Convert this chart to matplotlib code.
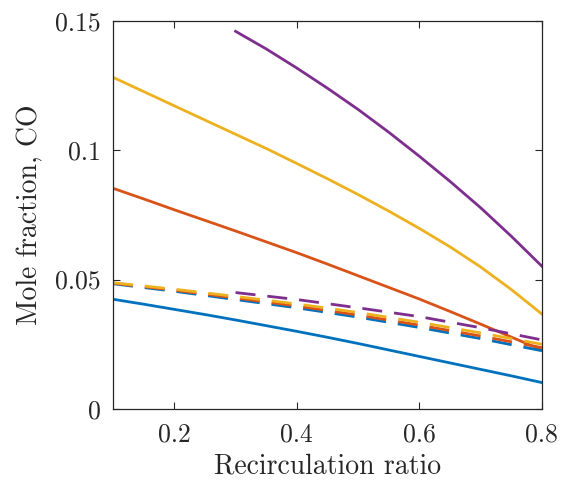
import matplotlib
matplotlib.use("Agg")
import matplotlib.pyplot as plt

plt.rcParams['font.family'] = 'cmr10'
plt.rcParams['mathtext.fontset'] = 'cm'
plt.rcParams['axes.formatter.use_mathtext'] = True

# --- data ---
# solid curves (read every 0.05)
x_fine = [0.1, 0.15, 0.2, 0.25, 0.3, 0.35, 0.4, 0.45, 0.5, 0.55, 0.6, 0.65, 0.7, 0.75, 0.8]
x_fine_purple = [0.3, 0.35, 0.4, 0.45, 0.5, 0.55, 0.6, 0.65, 0.7, 0.75, 0.8]

blue_solid = [0.0424, 0.0405, 0.0385, 0.0365, 0.0344, 0.0322, 0.0300, 0.0277,
              0.0253, 0.0228, 0.0203, 0.0178, 0.0153, 0.0128, 0.0102]
red_solid = [0.0853, 0.0812, 0.0770, 0.0729, 0.0688, 0.0646, 0.0604, 0.0560,
             0.0515, 0.0470, 0.0425, 0.0377, 0.0328, 0.0278, 0.0228]
yellow_solid = [0.1282, 0.1227, 0.1172, 0.1117, 0.1062, 0.1007, 0.0949, 0.0890,
                0.0829, 0.0765, 0.0698, 0.0627, 0.0549, 0.0462, 0.0367]
purple_solid = [0.1460, 0.1392, 0.1318, 0.1240, 0.1158, 0.1070, 0.0977, 0.0880,
                0.0778, 0.0668, 0.0552]

# dashed curves (read every 0.1)
x = [0.1, 0.2, 0.3, 0.4, 0.5, 0.6, 0.7, 0.8]
x_purple = [0.3, 0.4, 0.5, 0.6, 0.7, 0.8]
blue_dash = [0.0484, 0.0455, 0.0423, 0.0391, 0.0355, 0.0315, 0.0272, 0.0225]
red_dash = [0.0486, 0.0459, 0.0429, 0.0398, 0.0363, 0.0324, 0.0282, 0.0237]
yellow_dash = [0.0488, 0.0463, 0.0435, 0.0406, 0.0373, 0.0335, 0.0294, 0.0250]
purple_dash = [0.0450, 0.0423, 0.0391, 0.0357, 0.0314, 0.0267]

xticks = [0.2, 0.4, 0.6, 0.8]
xticklabels = ['0.2', '0.4', '0.6', '0.8']
yticks = [0, 0.05, 0.1, 0.15]
yticklabels = ['0', '0.05', '0.1', '0.15']

c_blue = '#0072BD'
c_red = '#D95319'
c_yellow = '#EDB120'
c_purple = '#7E2F8E'

fig = plt.figure(figsize=(5.74, 4.88), dpi=100)
ax = fig.add_axes([0.197, 0.162, 0.747, 0.795])

lw = 2.0
dash = (7.2, 4.3)
ax.plot(x_fine, blue_solid, color=c_blue, lw=lw)
ax.plot(x_fine, red_solid, color=c_red, lw=lw)
ax.plot(x_fine, yellow_solid, color=c_yellow, lw=lw)
ax.plot(x_fine_purple, purple_solid, color=c_purple, lw=lw)
ax.plot(x, blue_dash, color=c_blue, lw=lw, dashes=dash)
ax.plot(x, red_dash, color=c_red, lw=lw, dashes=dash)
ax.plot(x, yellow_dash, color=c_yellow, lw=lw, dashes=dash)
ax.plot(x_purple, purple_dash, color=c_purple, lw=lw, dashes=dash)

ax.set_xlim(0.1, 0.8)
ax.set_ylim(0, 0.15)
ax.set_xticks(xticks)
ax.set_xticklabels(xticklabels)
ax.set_yticks(yticks)
ax.set_yticklabels(yticklabels)
ax.tick_params(direction='in', top=True, right=True, length=5, width=0.8,
               labelsize=18.5, colors='#262626')
ax.tick_params(axis='x', pad=10)
ax.tick_params(axis='y', pad=9)
for s in ax.spines.values():
    s.set_color('#262626')
    s.set_linewidth(0.9)

ax.set_xlabel('Recirculation ratio', fontsize=20, color='#262626', labelpad=5)
ax.set_ylabel('Mole fraction, CO', fontsize=20, color='#262626', labelpad=8)

fig.savefig('out.png', dpi=100)
